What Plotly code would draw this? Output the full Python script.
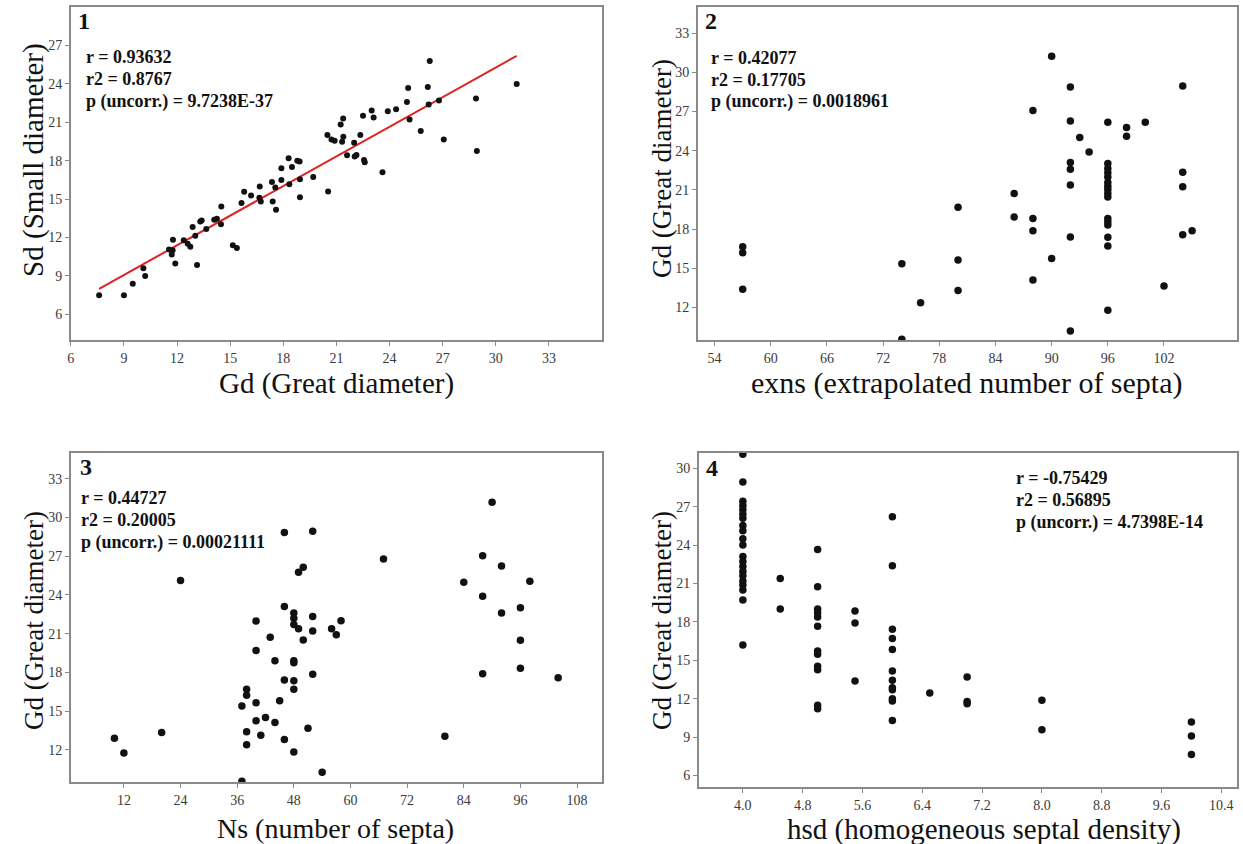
import numpy as np
import plotly.graph_objects as go

# ---------------- data ----------------
# Panel 1: Gd vs Sd
gd1 = [7.6, 9.0, 9.5, 10.1, 10.2, 11.55, 11.75, 11.77, 11.7, 11.9, 12.38, 12.6, 12.75, 12.88, 13.03, 13.13,
       13.31, 13.39, 13.65, 14.1, 14.25, 14.5, 14.48, 15.15, 15.38, 15.64, 15.79, 16.18, 16.65, 16.67, 16.73,
       17.36, 17.4, 17.55, 17.59, 17.89, 17.89, 18.3, 18.34, 18.49, 18.79, 18.92, 18.94, 18.94, 19.69, 20.53,
       20.49, 20.72, 20.9, 21.24, 21.38, 21.32, 21.39, 21.6, 22.0, 22.03, 22.13, 22.35, 22.5, 22.56, 22.6,
       22.99, 23.1, 23.6, 23.9, 24.37, 24.98, 25.05, 25.13, 25.76, 26.16, 26.21, 26.27, 26.79, 27.06, 28.88,
       28.93, 31.18]
sd1 = [7.5, 7.5, 8.4, 9.6, 9.0, 11.06, 11.0, 11.83, 10.67, 9.97, 11.78, 11.52, 11.29, 12.82, 12.14, 9.86,
       13.26, 13.34, 12.66, 13.39, 13.47, 14.43, 13.03, 11.39, 11.19, 14.69, 15.57, 15.28, 15.1, 15.98, 14.82,
       16.34, 14.82, 15.9, 14.17, 16.5, 17.41, 18.19, 16.16, 17.51, 18.0, 17.93, 16.55, 15.15, 16.73, 15.59,
       20.0, 19.66, 19.56, 20.83, 21.3, 19.48, 19.87, 18.42, 19.4, 18.32, 18.44, 20.0, 21.5, 18.06, 17.87,
       21.92, 21.37, 17.1, 21.87, 22.02, 22.59, 23.68, 21.22, 20.31, 23.76, 22.39, 25.78, 22.7, 19.66, 22.85,
       18.76, 23.99]

# Panel 2: exns vs Gd
exns2 = [57, 57, 57, 74, 74, 76, 80, 80, 80, 86, 86, 88, 88, 88, 88, 90, 90,
         92, 92, 92, 92, 92, 92, 92, 93, 94,
         96, 96, 96, 96, 96, 96, 96, 96, 96, 96, 96, 96, 96, 96, 96, 96,
         98, 98, 100, 102, 104, 104, 104, 104, 105]
gd2 = [16.64, 16.18, 13.38, 15.34, 9.55, 12.36, 19.67, 15.62, 13.3, 20.72, 18.91, 27.07, 18.8, 17.86, 14.09,
       31.22, 15.75,
       28.87, 26.27, 23.09, 22.58, 21.36, 17.38, 10.19, 25.0, 23.9,
       26.17, 23.02, 22.63, 22.3, 21.99, 21.56, 21.28, 21.03, 20.72, 20.46, 18.81, 18.55, 18.3, 17.36, 16.69, 11.77,
       25.77, 25.1, 26.17, 13.63, 28.95, 22.35, 21.23, 17.56, 17.86]

# Panel 3: Ns vs Gd
ns3 = [10, 12, 20, 24, 37, 37, 38, 38, 38, 38, 40, 40, 40, 40, 41, 42, 43, 44, 44, 45,
       46, 46, 46, 46, 48, 48, 48, 49, 48, 48, 48, 48, 48, 49, 50, 50, 51, 52, 52, 52, 52,
       54, 56, 57, 58, 67, 80, 84, 88, 88, 88, 90, 92, 92, 96, 96, 96, 98, 104]
gd3 = [12.9, 11.74, 13.34, 25.11, 15.39, 9.55, 16.68, 16.22, 13.39, 12.39, 21.97, 19.69, 15.65, 14.24, 13.13,
       14.5, 20.71, 14.11, 18.9, 15.8, 28.84, 23.1, 17.4, 12.8, 22.6, 22.2, 21.7, 21.38, 18.9, 18.75, 17.34,
       16.68, 11.82, 25.75, 26.14, 20.5, 13.67, 28.94, 22.33, 21.2, 17.86, 10.25, 21.38, 20.92, 22.0, 26.78,
       13.05, 24.98, 27.04, 23.9, 17.89, 31.18, 26.24, 22.59, 23.0, 20.48, 18.32, 25.06, 17.58]

# Panel 4: hsd vs Gd
hsd4 = [4.0] * 21 + [4.5] * 2 + [5.0] * 12 + [5.5] * 3 + [6.0] * 12 + [6.5] + [7.0] * 3 + [8.0] * 2 + [10.0] * 3
gd4 = [31.1, 28.93, 27.42, 27.1, 26.76, 26.42, 26.11, 25.54, 25.12, 24.49, 24.02, 23.11, 22.72, 22.33, 21.94,
       21.6, 21.2, 20.89, 20.5, 19.72, 16.2,
       21.39, 19.0,
       23.66, 20.74, 19.0, 18.71, 18.39, 17.66, 15.73, 15.47, 14.53, 14.27, 11.48, 11.22,
       18.86, 17.92, 13.38,
       26.22, 22.38, 17.43, 16.7, 15.84, 14.17, 13.44, 12.86, 12.7, 12.0, 11.82, 10.3,
       12.44,
       13.7, 11.79, 11.61,
       11.87, 9.57,
       10.17, 9.08, 7.64]

# tick values
xt1 = [6, 9, 12, 15, 18, 21, 24, 27, 30, 33]
yt1 = [6, 9, 12, 15, 18, 21, 24, 27]
xt2 = [54, 60, 66, 72, 78, 84, 90, 96, 102]
yt2 = [12, 15, 18, 21, 24, 27, 30, 33]
xt3 = [12, 24, 36, 48, 60, 72, 84, 96, 108]
yt3 = [12, 15, 18, 21, 24, 27, 30, 33]
xt4 = [4.0, 4.8, 5.6, 6.4, 7.2, 8.0, 8.8, 9.6, 10.4]
yt4 = [6, 9, 12, 15, 18, 21, 24, 27, 30]

stats1 = ["r = 0.93632", "r2 = 0.8767", "p (uncorr.) = 9.7238E-37"]
stats2 = ["r = 0.42077", "r2 = 0.17705", "p (uncorr.) = 0.0018961"]
stats3 = ["r = 0.44727", "r2 = 0.20005", "p (uncorr.) = 0.00021111"]
stats4 = ["r = -0.75429", "r2 = 0.56895", "p (uncorr.) = 4.7398E-14"]

# ---------------- figure ----------------
W, H = 1243, 844
SERIF = "Liberation Serif, Times New Roman, serif"


def px(x):
    return x / W


def py(y):
    return 1 - y / H


fig = go.Figure()

# regression line (panel 1)
coef = np.polyfit(gd1, sd1, 1)
xl = np.array([min(gd1), max(gd1)])
fig.add_trace(go.Scatter(x=xl, y=np.polyval(coef, xl), mode="lines",
                         line=dict(color="#e0211f", width=2), xaxis="x", yaxis="y", showlegend=False))
fig.add_trace(go.Scatter(x=gd1, y=sd1, mode="markers", marker=dict(color="#111", size=6),
                         xaxis="x", yaxis="y", showlegend=False))
fig.add_trace(go.Scatter(x=exns2, y=gd2, mode="markers", marker=dict(color="#111", size=7.5),
                         xaxis="x2", yaxis="y2", showlegend=False))
fig.add_trace(go.Scatter(x=ns3, y=gd3, mode="markers", marker=dict(color="#111", size=7.5),
                         xaxis="x3", yaxis="y3", showlegend=False))
fig.add_trace(go.Scatter(x=hsd4, y=gd4, mode="markers", marker=dict(color="#111", size=7.5),
                         xaxis="x4", yaxis="y4", showlegend=False))

axcommon = dict(showline=True, mirror=True, linecolor="#8a8a8a", linewidth=1.5, showgrid=False,
                zeroline=False, ticks="outside", ticklen=4, tickcolor="#8a8a8a", tickwidth=1,
                tickfont=dict(family=SERIF, size=14, color="#3a3a3a"))

panels = [
    # (x0, x1, ytop, ybot) in pixels
    (67, 600, 7, 340),
    (696, 1237, 7, 340),
    (67, 600, 453, 782),
    (697, 1237, 453, 787),
]
ranges = [
    ([6, 36], [4, 30], xt1, yt1),
    ([52.2, 109.8], [9.5, 35], xt2, yt2),
    ([0.75, 113.3], [9.5, 35], xt3, yt3),
    ([3.41, 10.61], [5.1, 31.2], xt4, yt4),
]
lay = {}
for i, ((x0, x1, yt, yb), (xr, yr, xtv, ytv)) in enumerate(zip(panels, ranges), start=1):
    sx = "" if i == 1 else str(i)
    xa = dict(axcommon, domain=[px(x0), px(x1)], range=xr, tickvals=xtv, anchor="y" + sx)
    ya = dict(axcommon, domain=[py(yb), py(yt)], range=yr, tickvals=ytv, anchor="x" + sx)
    if i == 4:
        xa["tickformat"] = ".1f"
    lay["xaxis" + sx] = xa
    lay["yaxis" + sx] = ya

annotations = []


def text(x, y, s, size, bold=False, angle=0, xanchor="left", color="#111"):
    annotations.append(dict(x=px(x), y=py(y), xref="paper", yref="paper", text=("<b>%s</b>" % s) if bold else s,
                            showarrow=False, xanchor=xanchor, yanchor="middle", textangle=angle,
                            font=dict(family=SERIF, size=size, color=color)))


# axis titles
text(334, 383, "Gd (Great diameter)", 29, xanchor="center")
text(966, 383, "exns (extrapolated number of septa)", 30, xanchor="center")
text(333, 828, "Ns (number of septa)", 28, xanchor="center")
text(983, 829, "hsd (homogeneous septal density)", 29, xanchor="center")
text(30, 160, "Sd (Small diameter)", 29, angle=-90, xanchor="center")
text(660, 168, "Gd (Great diameter)", 27, angle=-90, xanchor="center")
text(30, 620, "Gd (Great diameter)", 27, angle=-90, xanchor="center")
text(660, 620, "Gd (Great diameter)", 27, angle=-90, xanchor="center")

# panel numbers
text(72, 21, "1", 24, bold=True)
text(701, 21, "2", 24, bold=True)
text(74, 467, "3", 24, bold=True)
text(702, 468, "4", 24, bold=True)

# stats
for (sx, sy, lines) in [(80, 57, stats1), (707, 58, stats2), (75, 498, stats3), (1013, 478, stats4)]:
    for k, s in enumerate(lines):
        text(sx, sy + 22 * k, s, 18, bold=True)

fig.update_layout(width=W, height=H, margin=dict(l=0, r=0, t=0, b=0),
                  paper_bgcolor="white", plot_bgcolor="white", showlegend=False,
                  annotations=annotations, **lay)

fig.write_html("out.html")
